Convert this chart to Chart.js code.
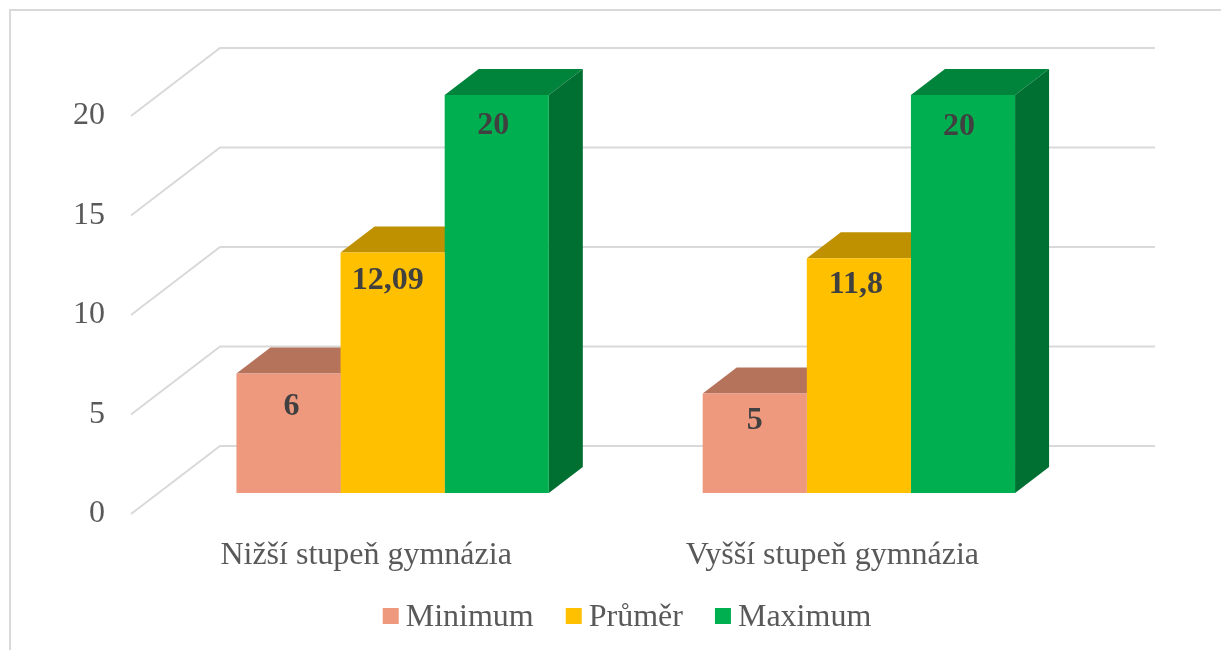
<!DOCTYPE html>
<html>
<head>
<meta charset="utf-8">
<style>
  html, body { margin: 0; padding: 0; background: #ffffff; }
  canvas { display: block; }
</style>
</head>
<body>
<canvas id="grafico" width="1221" height="650"></canvas>
<script src="https://cdn.jsdelivr.net/npm/chart.js@4"></script>
<script>
  // Data
  const categories = ['Nižší stupeň gymnázia', 'Vyšší stupeň gymnázia'];
  const seriesNames = ['Minimum', 'Průměr', 'Maximum'];
  const minimum = [6, 5];
  const prumer = [12.09, 11.8];
  const maximum = [20, 20];
  const yTickStep = 5;

  // Colours: front, top and side face of each series
  const frontColors = ['#ee997e', '#ffc000', '#00b050'];
  const topColors = ['#b5735c', '#bf9000', '#00843c'];
  const sideColors = ['#8f5b49', '#997300', '#006f32'];

  const FONT = '"Liberation Serif", "Times New Roman", serif';
  const TEXT = '#595959';
  const GRID = '#d9d9d9';

  // Pseudo 3D geometry (pixels)
  const PLOT_TOP = 48, PLOT_BOTTOM = 514, PLOT_LEFT = 159.5, PLOT_RIGHT = 1092;
  const BASE_Y = 493;            // where value 0 sits on the bars
  const PX_PER_UNIT = 19.9;
  const WALL_DX = 89, WALL_DY = 68, WALL_RIGHT = 1155, FLOOR_LEFT = 131;
  const BAR_DX = 34, BAR_DY = 26;

  // value labels were placed by hand in the original: [dx from bar centre, baseline below bar top]
  // per series, per category
  const labelPlace = [
    [[3, 41], [0, 35.5]],
    [[-5, 37], [-3, 35]],
    [[-3.5, 38.5], [-4, 40]]
  ];

  function poly(ctx, color, pts) {
    ctx.fillStyle = color;
    ctx.beginPath();
    pts.forEach((p, i) => i ? ctx.lineTo(p[0], p[1]) : ctx.moveTo(p[0], p[1]));
    ctx.closePath();
    ctx.fill();
  }

  const fake3d = {
    id: 'fake3d',
    beforeDraw(chart) {
      // outer frame, open on the right and at the bottom
      const ctx = chart.ctx;
      ctx.save();
      ctx.strokeStyle = GRID;
      ctx.lineWidth = 2;
      ctx.beginPath();
      ctx.moveTo(10, 650);
      ctx.lineTo(10, 10);
      ctx.lineTo(1221, 10);
      ctx.stroke();
      ctx.restore();
    },
    beforeDatasetsDraw(chart) {
      const ctx = chart.ctx;
      const front = chart.scales.yFront;
      ctx.save();
      // floor/wall grid
      ctx.strokeStyle = GRID;
      ctx.lineWidth = 2;
      front.ticks.forEach(t => {
        const y = front.getPixelForValue(t.value);
        ctx.beginPath();
        ctx.moveTo(FLOOR_LEFT, y);
        ctx.lineTo(FLOOR_LEFT + WALL_DX, y - WALL_DY);
        ctx.lineTo(WALL_RIGHT, y - WALL_DY);
        ctx.stroke();
      });
      // top and side faces of the bars
      chart.data.datasets.forEach((ds, i) => {
        chart.getDatasetMeta(i).data.forEach(bar => {
          const l = bar.x - bar.width / 2, r = bar.x + bar.width / 2;
          poly(ctx, topColors[i], [[l, bar.y], [l + BAR_DX, bar.y - BAR_DY], [r + BAR_DX, bar.y - BAR_DY], [r, bar.y]]);
          poly(ctx, sideColors[i], [[r, bar.y], [r + BAR_DX, bar.y - BAR_DY], [r + BAR_DX, bar.base - BAR_DY], [r, bar.base]]);
        });
      });
      ctx.restore();
    },
    afterDatasetsDraw(chart) {
      const ctx = chart.ctx;
      ctx.save();
      // value labels
      ctx.font = 'bold 32px ' + FONT;
      ctx.fillStyle = '#404040';
      ctx.textAlign = 'center';
      ctx.textBaseline = 'alphabetic';
      chart.data.datasets.forEach((ds, i) => {
        chart.getDatasetMeta(i).data.forEach((bar, j) => {
          const place = labelPlace[i][j];
          ctx.fillText(String(ds.data[j]).replace('.', ','), bar.x + place[0], bar.y + place[1]);
        });
      });
      // legend
      ctx.font = '32px ' + FONT;
      ctx.textAlign = 'left';
      const widths = seriesNames.map(n => ctx.measureText(n).width);
      const total = widths.reduce((a, w) => a + w + 23, 0) + 32 * (seriesNames.length - 1);
      let x = 627 - total / 2;
      seriesNames.forEach((n, i) => {
        ctx.fillStyle = frontColors[i];
        ctx.fillRect(x, 608, 16, 16);
        ctx.fillStyle = TEXT;
        ctx.fillText(n, x + 23, 626);
        x += 23 + widths[i] + 32;
      });
      ctx.restore();
    }
  };

  new Chart(document.getElementById('grafico'), {
    type: 'bar',
    data: {
      labels: categories,
      datasets: [
        { label: seriesNames[0], data: minimum, backgroundColor: frontColors[0] },
        { label: seriesNames[1], data: prumer, backgroundColor: frontColors[1] },
        { label: seriesNames[2], data: maximum, backgroundColor: frontColors[2] }
      ]
    },
    options: {
      responsive: false,
      animation: false,
      layout: {
        autoPadding: false,
        padding: { top: PLOT_TOP, right: 1221 - PLOT_RIGHT, bottom: 0, left: 0 }
      },
      datasets: { bar: { barPercentage: 1, categoryPercentage: 0.67, borderWidth: 0 } },
      plugins: { legend: { display: false }, tooltip: { enabled: false } },
      scales: {
        x: {
          grid: { display: false },
          border: { display: false },
          ticks: { color: TEXT, font: { family: FONT, size: 32 }, padding: 14, labelOffset: -26.5, maxRotation: 0, autoSkip: false },
          afterFit(scale) {
            scale.height = 650 - PLOT_BOTTOM;
            scale.paddingLeft = scale.paddingRight = 0;
          }
        },
        // the bars stand in the middle of the floor, so their scale is shifted up
        y: {
          display: false,
          min: (BASE_Y - PLOT_BOTTOM) / PX_PER_UNIT,
          max: (BASE_Y - PLOT_TOP) / PX_PER_UNIT
        },
        // the labelled axis sits at the front edge of the floor
        yFront: {
          type: 'linear',
          position: 'left',
          min: 0,
          max: (PLOT_BOTTOM - PLOT_TOP) / PX_PER_UNIT,
          grid: { display: false, drawTicks: false },
          border: { display: false },
          ticks: { stepSize: yTickStep, includeBounds: false, color: TEXT, font: { family: FONT, size: 32 }, padding: 54.5 },
          afterFit(scale) {
            scale.width = PLOT_LEFT;
            // tick padding would otherwise push the plot area down
            scale.paddingTop = scale.paddingBottom = 0;
          }
        }
      }
    },
    plugins: [fake3d]
  });
</script>
</body>
</html>
